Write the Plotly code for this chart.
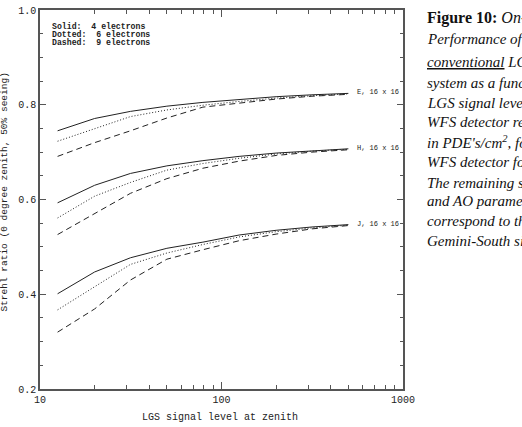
import plotly.graph_objects as go
import math

# ---- data ----
signal = [12.5, 20, 31.5, 50, 79, 125, 200, 315, 500]

E_solid  = [0.745, 0.771, 0.786, 0.797, 0.805, 0.811, 0.817, 0.821, 0.824]
E_dotted = [0.723, 0.750, 0.775, 0.789, 0.799, 0.807, 0.814, 0.819, 0.823]
E_dashed = [0.691, 0.720, 0.745, 0.772, 0.795, 0.804, 0.812, 0.818, 0.822]

H_solid  = [0.593, 0.630, 0.655, 0.671, 0.682, 0.691, 0.698, 0.703, 0.707]
H_dotted = [0.561, 0.607, 0.636, 0.662, 0.676, 0.687, 0.696, 0.702, 0.706]
H_dashed = [0.526, 0.570, 0.613, 0.644, 0.666, 0.681, 0.693, 0.700, 0.705]

J_solid  = [0.401, 0.447, 0.477, 0.497, 0.510, 0.525, 0.535, 0.542, 0.547]
J_dotted = [0.367, 0.416, 0.463, 0.487, 0.505, 0.521, 0.532, 0.540, 0.546]
J_dashed = [0.320, 0.369, 0.430, 0.474, 0.494, 0.513, 0.527, 0.538, 0.545]

band_labels = ["E, 16 x 16", "H, 16 x 16", "J, 16 x 16"]
legend_lines = ["Solid:\u00a0 4 electrons", "Dotted:\u00a0 6 electrons", "Dashed:\u00a0 9 electrons"]

x_major = [10, 100, 1000]
x_minor = [20, 30, 40, 50, 60, 70, 80, 90, 200, 300, 400, 500, 600, 700, 800, 900]

caption = [
    "<b>Figure 10:</b> <i>On-axis</i>",
    "<i>Performance of the</i>",
    "<i><u>conventional</u> LGS AO</i>",
    "<i>system as a function of</i>",
    "<i>LGS signal level and</i>",
    "<i>WFS detector read noise</i>",
    "<i>in PDE's/cm<sup>2</sup>, for the</i>",
    "<i>WFS detector format.</i>",
    "<i>The remaining system</i>",
    "<i>and AO parameters</i>",
    "<i>correspond to the</i>",
    "<i>Gemini-South site.</i>",
]
caption_y = [13, 34, 58, 79, 99, 118, 139, 159, 180, 199, 219, 239]
caption_size = [16, 15, 15, 15, 15, 15, 15, 15, 15, 15, 15, 15]

MONO = "Liberation Mono"
INK = "#222"

W, H = 522, 427
L, R, T, B = 40, 119, 5, 38
plot_h = H - T - B
plot_w = W - L - R

fig = go.Figure()

groups = [(E_solid, E_dotted, E_dashed), (H_solid, H_dotted, H_dashed), (J_solid, J_dotted, J_dashed)]
styles = ["solid", "1px,2px", "6px,4px"]
for grp in groups:
    for ys, dash in zip(grp, styles):
        fig.add_trace(go.Scatter(x=signal, y=ys, mode="lines",
                                 line=dict(color=INK, width=1, dash=dash),
                                 showlegend=False, hoverinfo="skip"))

annotations = []
for grp, lab in zip(groups, band_labels):
    annotations.append(dict(x=math.log10(signal[-1]), y=grp[0][-1], xref="x", yref="y",
                            text=lab, showarrow=False, xanchor="left", yanchor="middle",
                            xshift=7, yshift=1, font=dict(family=MONO, size=7, color=INK)))

for i, t in enumerate(legend_lines):
    ypx = 22 + 8 * i
    annotations.append(dict(x=(50 - L) / plot_w, y=(H - B - ypx) / plot_h, xref="paper", yref="paper",
                            text="<b>" + t + "</b>", showarrow=False, xanchor="left", yanchor="middle",
                            font=dict(family=MONO, size=8.2, color=INK)))

# axis titles
annotations.append(dict(x=(220 - L) / plot_w, y=(H - B - 418) / plot_h, xref="paper", yref="paper",
                        text="LGS signal level at zenith", showarrow=False,
                        xanchor="center", yanchor="middle",
                        font=dict(family=MONO, size=10, color=INK)))
annotations.append(dict(x=(5 - L) / plot_w, y=(H - B - 190) / plot_h, xref="paper", yref="paper",
                        text="Strehl ratio (0 degree zenith, 50% seeing)", showarrow=False,
                        textangle=-90, xanchor="center", yanchor="middle",
                        font=dict(family=MONO, size=9.5, color=INK)))

for t, ypx, fs in zip(caption, caption_y, caption_size):
    annotations.append(dict(x=(425 - L) / plot_w, y=(H - B - ypx) / plot_h, xref="paper", yref="paper",
                            text=t, showarrow=False, xanchor="left", yanchor="middle",
                            font=dict(family="Liberation Serif", size=fs, color="#111")))

fig.update_layout(
    width=W, height=H,
    margin=dict(l=L, r=R, t=T, b=B, pad=0),
    paper_bgcolor="white", plot_bgcolor="white",
    annotations=annotations,
    xaxis=dict(type="log", range=[1, 3], showgrid=False, zeroline=False,
               showline=True, linecolor="#555", linewidth=1.5, mirror="ticks",
               ticks="inside", ticklen=7, tickwidth=1, tickcolor="#555",
               tickvals=x_major, ticktext=[str(v) for v in x_major],
               tickfont=dict(family=MONO, size=10, color=INK),
               minor=dict(ticks="inside", ticklen=4, tickwidth=1, tickcolor="#555",
                          tickvals=x_minor, showgrid=False)),
    yaxis=dict(range=[0.2, 1.0], showgrid=False, zeroline=False,
               showline=True, linecolor="#555", linewidth=1.5, mirror="ticks",
               ticks="inside", ticklen=6, tickwidth=1, tickcolor="#555",
               dtick=0.2, tick0=0.2, tickformat=".1f",
               tickfont=dict(family=MONO, size=10, color=INK),
               minor=dict(ticks="inside", ticklen=3, tickwidth=1, tickcolor="#555",
                          dtick=0.05, tick0=0.2, showgrid=False)),
)

fig.write_html("out.html")
